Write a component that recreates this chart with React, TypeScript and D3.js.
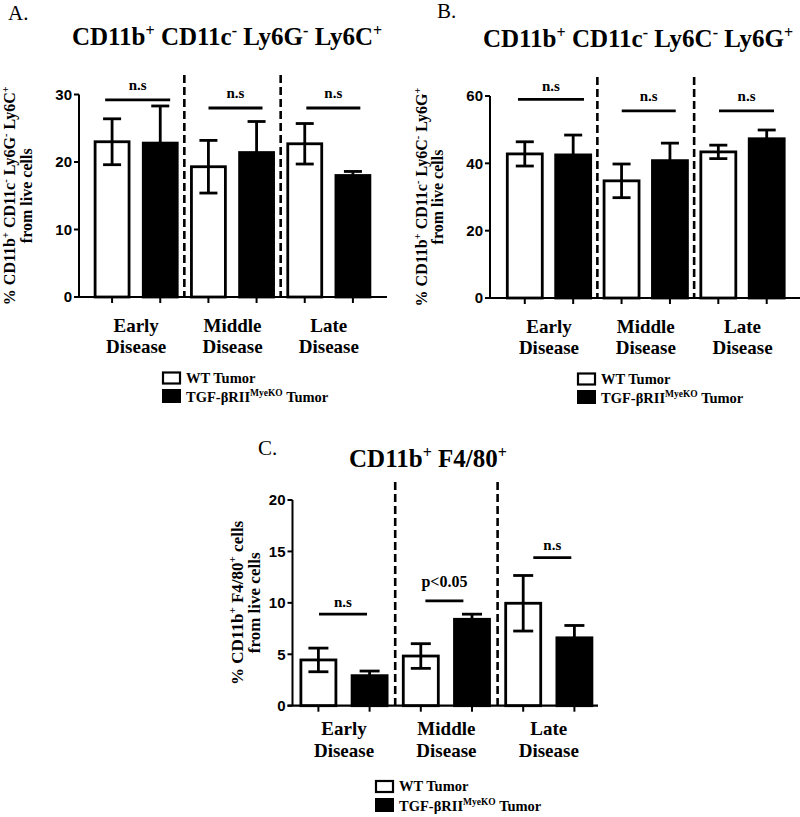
import React from 'react';
import * as d3 from 'd3';

const groups = ["Early Disease", "Middle Disease", "Late Disease"];
const groupLines = [["Early", "Disease"], ["Middle", "Disease"], ["Late", "Disease"]];
const seriesKeys = ["WT", "KO"];
const legendWT = "WT Tumor";
const legendKO = ["TGF-βRII", "MyeKO", " Tumor"];

// Panel A
const aWT = [23.0, 19.3, 22.7];
const aWTErr = [3.4, 3.9, 3.0];
const aKO = [22.8, 21.4, 18.0];
const aKOErr = [5.5, 4.6, 0.6];
const aSigLabels = ["n.s", "n.s", "n.s"];
const aSigY = [29.2, 28.0, 28.0];
const aTicks = [0, 10, 20, 30];

// Panel B
const bWT = [42.8, 34.8, 43.4];
const bWTErr = [3.6, 5.0, 2.0];
const bKO = [42.5, 40.8, 47.3];
const bKOErr = [5.9, 5.2, 2.6];
const bSigLabels = ["n.s", "n.s", "n.s"];
const bSigY = [59.0, 55.6, 55.6];
const bTicks = [0, 20, 40, 60];

// Panel C
const cWT = [4.45, 4.83, 9.96];
const cWTErr = [1.15, 1.2, 2.7];
const cKO = [2.92, 8.4, 6.6];
const cKOErr = [0.45, 0.5, 1.2];
const cSigLabels = ["n.s", "p<0.05", "n.s"];
const cSigY = [8.9, 10.2, 14.4];
const cTicks = [0, 5, 10, 15, 20];

type Seg = [string, number];
const titleA: Seg[] = [["CD11b", 0], ["+", 1], [" CD11c", 0], ["-", 1], [" Ly6G", 0], ["-", 1], [" Ly6C", 0], ["+", 1]];
const titleB: Seg[] = [["CD11b", 0], ["+", 1], [" CD11c", 0], ["-", 1], [" Ly6C", 0], ["-", 1], [" Ly6G", 0], ["+", 1]];
const titleC: Seg[] = [["CD11b", 0], ["+", 1], [" F4/80", 0], ["+", 1]];
const ylabA: Seg[] = [["% CD11b", 0], ["+", 1], [" CD11c", 0], ["-", 1], [" Ly6G", 0], ["-", 1], [" Ly6C", 0], ["+", 1]];
const ylabB: Seg[] = [["% CD11b", 0], ["+", 1], [" CD11c", 0], ["-", 1], [" Ly6C", 0], ["-", 1], [" Ly6G", 0], ["+", 1]];
const ylabC: Seg[] = [["% CD11b", 0], ["+", 1], [" F4/80", 0], ["+", 1], [" cells", 0]];
const ylab2 = "from live cells";

const SERIF = "'Liberation Serif', 'Times New Roman', serif";
const SANS = "'Liberation Sans', Arial, sans-serif";

function Rich({ segs, size, supSize, shift, ...props }: any) {
  let shifted = false;
  const out: any[] = [];
  segs.forEach(([t, sup]: Seg, i: number) => {
    if (sup) {
      out.push(<tspan key={i} fontSize={supSize} dy={-shift}>{t}</tspan>);
      shifted = true;
    } else {
      out.push(<tspan key={i} dy={shifted ? shift : 0}>{t}</tspan>);
      shifted = false;
    }
  });
  return <text {...props} fontSize={size} style={{ whiteSpace: 'pre' }}>{out}</text>;
}

function Panel({ cfg }: any) {
  const maxV = cfg.ticks[cfg.ticks.length - 1];
  const y = d3.scaleLinear().domain([0, maxV]).range([cfg.y0, cfg.yTop]);
  const xg = d3.scaleBand().domain(groups).range(cfg.groupRange).padding(0);
  const xs = d3.scaleBand().domain(seriesKeys).range([0, xg.bandwidth()]).paddingInner(cfg.pad).paddingOuter(cfg.pad / 2);
  const bw = xs.bandwidth();
  const cap = cfg.cap / 2;
  const sw = 2.8;
  const vals: any = { WT: [cfg.wt, cfg.wtErr], KO: [cfg.ko, cfg.koErr] };
  const yMid = (cfg.y0 + cfg.yTop) / 2;
  return (
    <g>
      <text x={cfg.letterX} y={cfg.letterY} fontFamily={SERIF} fontSize={21}>{cfg.letter}</text>
      <Rich segs={cfg.title} size={25} supSize={16} shift={9} x={cfg.titleX} y={cfg.titleY}
        textAnchor="middle" fontFamily={SERIF} fontWeight="bold" />
      {/* y label */}
      <Rich segs={cfg.ylab} size={cfg.ylabSize} supSize={cfg.ylabSize * 0.65} shift={cfg.ylabSize * 0.4}
        transform={`translate(${cfg.ylabX1},${yMid}) rotate(-90)`} textAnchor="middle"
        fontFamily={SERIF} fontWeight="bold" />
      <text transform={`translate(${cfg.ylabX2},${yMid}) rotate(-90)`} textAnchor="middle"
        fontFamily={SERIF} fontWeight="bold" fontSize={cfg.ylabSize}>{ylab2}</text>
      {/* dashed separators */}
      {groups.slice(1).map(g => (
        <line key={g} x1={xg(g)} x2={xg(g)} y1={cfg.dashTop} y2={cfg.y0} stroke="#000"
          strokeWidth={2.6} strokeDasharray="8,4" />
      ))}
      {/* bars */}
      {groups.map((g, i) => seriesKeys.map(s => {
        const [v, e] = vals[s];
        const x0 = (xg(g) as number) + (xs(s) as number);
        const cx = x0 + bw / 2;
        const isWT = s === "WT";
        return (
          <g key={g + s}>
            <rect x={x0} y={y(v[i])} width={bw} height={cfg.y0 - y(v[i])}
              fill={isWT ? "#fff" : "#000"} stroke="#000" strokeWidth={sw} />
            <line x1={cx} x2={cx} y1={isWT ? y(v[i] - e[i]) : y(v[i])} y2={y(v[i] + e[i])} stroke="#000" strokeWidth={sw} />
            <line x1={cx - cap} x2={cx + cap} y1={y(v[i] + e[i])} y2={y(v[i] + e[i])} stroke="#000" strokeWidth={sw} />
            {isWT && <line x1={cx - cap} x2={cx + cap} y1={y(v[i] - e[i])} y2={y(v[i] - e[i])} stroke="#000" strokeWidth={sw} />}
          </g>
        );
      }))}
      {/* significance */}
      {groups.map((g, i) => {
        const c = (xg(g) as number) + xg.bandwidth() / 2 + cfg.sigDx[i];
        const yy = y(cfg.sigY[i]);
        return (
          <g key={"sig" + g}>
            <line x1={c - cfg.sigW[i] / 2} x2={c + cfg.sigW[i] / 2} y1={yy} y2={yy} stroke="#000" strokeWidth={2.8} />
            <text x={c} y={yy - cfg.sigGap[i]} textAnchor="middle" fontFamily={SERIF} fontWeight="bold"
              fontSize={cfg.sigLabels[i] === "n.s" ? 15 : 16}>{cfg.sigLabels[i]}</text>
          </g>
        );
      })}
      {/* y axis */}
      <line x1={cfg.axisX} x2={cfg.axisX} y1={y(maxV)} y2={cfg.y0} stroke="#000" strokeWidth={2} />
      {cfg.ticks.map((t: number) => (
        <g key={"t" + t}>
          <line x1={cfg.axisX - 5} x2={cfg.axisX} y1={y(t)} y2={y(t)} stroke="#000" strokeWidth={2} />
          <text x={cfg.axisX - 7} y={y(t)} dy="0.36em" textAnchor="end" fontFamily={SANS} fontWeight="bold" fontSize={15}>{t}</text>
        </g>
      ))}
      {/* x axis */}
      <line x1={cfg.axisX - 5} x2={cfg.axisEnd} y1={cfg.y0} y2={cfg.y0} stroke="#000" strokeWidth={2.2} />
      {groups.map(g => seriesKeys.map(s => {
        const cx = (xg(g) as number) + (xs(s) as number) + bw / 2;
        return <line key={"xt" + g + s} x1={cx} x2={cx} y1={cfg.y0} y2={cfg.y0 + 6} stroke="#000" strokeWidth={2} />;
      }))}
      {groups.map((g, i) => {
        const c = (xg(g) as number) + xg.bandwidth() / 2;
        return (
          <text key={"cl" + g} textAnchor="middle" fontFamily={SERIF} fontWeight="bold" fontSize={19}>
            <tspan x={c} y={cfg.catY1}>{groupLines[i][0]}</tspan>
            <tspan x={c} y={cfg.catY2}>{groupLines[i][1]}</tspan>
          </text>
        );
      })}
      {/* legend */}
      <rect x={cfg.legX} y={cfg.legY1} width={17} height={11} fill="#fff" stroke="#000" strokeWidth={2.2} />
      <rect x={cfg.legX - 1} y={cfg.legY2 - 1} width={19} height={14} fill="#000" />
      <text x={cfg.legX + 23} y={cfg.legY1 + 10} fontFamily={SERIF} fontWeight="bold" fontSize={14.5}>{legendWT}</text>
      <text x={cfg.legX + 23} y={cfg.legY2 + 12} fontFamily={SERIF} fontWeight="bold" fontSize={14.5} style={{ whiteSpace: 'pre' }}>
        <tspan>{legendKO[0]}</tspan>
        <tspan fontSize={9.5} dy={-6}>{legendKO[1]}</tspan>
        <tspan dy={6}>{legendKO[2]}</tspan>
      </text>
    </g>
  );
}

const cfgA = {
  letter: "A.", letterX: 8, letterY: 20, title: titleA, titleX: 227, titleY: 45,
  ylab: ylabA, ylabSize: 16, ylabX1: 15, ylabX2: 32,
  ticks: aTicks, y0: 297, yTop: 94.5, axisX: 79, axisEnd: 387, groupRange: [88, 377], pad: 0.295,
  cap: 18, dashTop: 75, wt: aWT, wtErr: aWTErr, ko: aKO, koErr: aKOErr,
  sigLabels: aSigLabels, sigY: aSigY, sigW: [65, 54, 54], sigDx: [1.5, 3, 4.5], sigGap: [10, 10, 10],
  catY1: 332, catY2: 353, legX: 163, legY1: 372.5, legY2: 390,
};
const cfgB = {
  letter: "B.", letterX: 437, letterY: 18, title: titleB, titleX: 638, titleY: 47,
  ylab: ylabB, ylabSize: 16, ylabX1: 427, ylabX2: 443,
  ticks: bTicks, y0: 298, yTop: 96, axisX: 490, axisEnd: 800, groupRange: [500.6, 790.9], pad: 0.277,
  cap: 18, dashTop: 77, wt: bWT, wtErr: bWTErr, ko: bKO, koErr: bKOErr,
  sigLabels: bSigLabels, sigY: bSigY, sigW: [66, 54, 55], sigDx: [2, 3, 4], sigGap: [8, 10, 10],
  catY1: 333, catY2: 354, legX: 578, legY1: 373.5, legY2: 391,
};
const cfgC = {
  letter: "C.", letterX: 258, letterY: 455, title: titleC, titleX: 428, titleY: 467,
  ylab: ylabC, ylabSize: 17, ylabX1: 243, ylabX2: 260,
  ticks: cTicks, y0: 705.7, yTop: 500, axisX: 292.5, axisEnd: 598, groupRange: [292.8, 600], pad: 0.316,
  cap: 20, dashTop: 482, wt: cWT, wtErr: cWTErr, ko: cKO, koErr: cKOErr,
  sigLabels: cSigLabels, sigY: cSigY, sigW: [48, 38, 38], sigDx: [-1, -2, 3.5], sigGap: [7, 14, 8],
  catY1: 735, catY2: 757, legX: 376, legY1: 781, legY2: 799,
};

export default function App() {
  return (
    <svg width={800} height={817} style={{ position: 'absolute', left: 0, top: 0, background: '#fff' }}>
      <rect width={800} height={817} fill="#fff" />
      <Panel cfg={cfgA} />
      <Panel cfg={cfgB} />
      <Panel cfg={cfgC} />
    </svg>
  );
}
